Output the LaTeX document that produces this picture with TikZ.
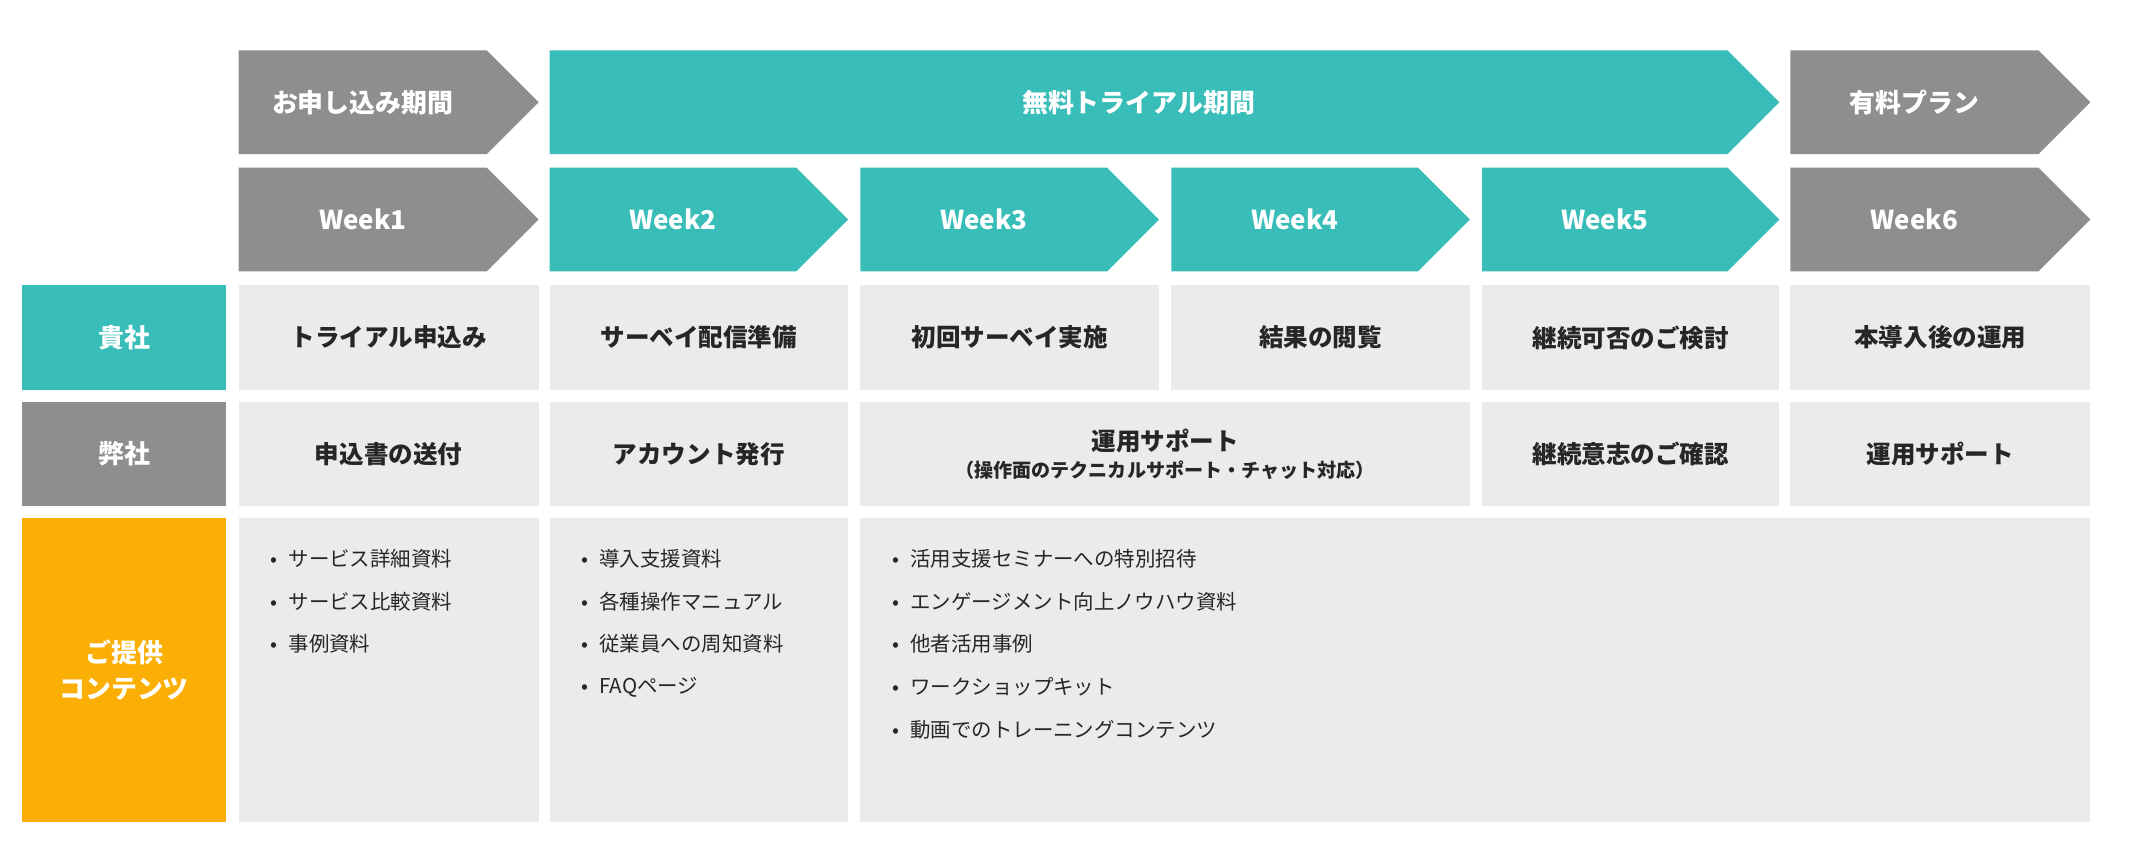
\documentclass[tikz,border=0pt]{standalone}
\usepackage{fontspec}
\setmainfont{Noto Sans CJK JP}
\begin{document}
\begin{tikzpicture}[x=1pt,y=-1pt,
  hdr/.style={font=\bfseries\fontsize{19}{22}\selectfont,text=white},
  cell/.style={font=\bfseries\fontsize{18}{22}\selectfont,text=black!85},
  bl/.style={anchor=west,font=\fontsize{15}{18}\selectfont,text=black!85}]
\definecolor{teal}{HTML}{38BDB8}
\definecolor{gr}{HTML}{8E8E8E}
\definecolor{lt}{HTML}{EBEBEB}
\definecolor{org}{HTML}{FBAE03}
\useasboundingbox (0,0) rectangle (1568,619);
\fill[white] (0,0) rectangle (1568,619);
% arrows
\newcommand{\arr}[5]{\fill[#3] (#1,#4) -- (#2-38,#4) -- (#2,#4+38) -- (#2-38,#4+76) -- (#1,#4+76) -- cycle;
  \node[hdr] at ({(#1+#2-38)/2},#4+38) {#5};}
\arr{175}{395}{gr}{37}{お申し込み期間}
\arr{403}{1305}{teal}{37}{無料トライアル期間}
\arr{1313}{1533}{gr}{37}{有料プラン}
\arr{175}{395}{gr}{123}{Week1}
\arr{403}{622}{teal}{123}{Week2}
\arr{631}{850}{teal}{123}{Week3}
\arr{859}{1078}{teal}{123}{Week4}
\arr{1087}{1305}{teal}{123}{Week5}
\arr{1313}{1533}{gr}{123}{Week6}
% left labels
\fill[teal] (16,209) rectangle (166,286); \node[hdr] (l1) at (91,247.5) {貴社};
\fill[gr] (16,295) rectangle (166,371); \node[hdr] (l2) at (91,333) {弊社};
\fill[org] (16,380) rectangle (166,603); \node[hdr,align=center] (l3) at (91,491.5) {ご提供\\[4pt]コンテンツ};
% row 3
\newcommand{\cellbox}[5]{\fill[lt] (#1,#3) rectangle (#2,#4); \node[cell,align=center] at ({(#1+#2)/2},{(#3+#4)/2}) {#5};}
\cellbox{175}{395}{209}{286}{トライアル申込み}
\cellbox{403}{622}{209}{286}{サーベイ配信準備}
\cellbox{631}{850}{209}{286}{初回サーベイ実施}
\cellbox{859}{1078}{209}{286}{結果の閲覧}
\cellbox{1087}{1305}{209}{286}{継続可否のご検討}
\cellbox{1313}{1533}{209}{286}{本導入後の運用}
\cellbox{175}{395}{295}{371}{申込書の送付}
\cellbox{403}{622}{295}{371}{アカウント発行}
\cellbox{631}{1078}{295}{371}{運用サポート\\[-2pt]{\fontsize{14}{17}\selectfont （操作面のテクニカルサポート・チャット対応）}}
\cellbox{1087}{1305}{295}{371}{継続意志のご確認}
\cellbox{1313}{1533}{295}{371}{運用サポート}
\fill[lt] (175,380) rectangle (395,603);
\fill[lt] (403,380) rectangle (622,603);
\fill[lt] (631,380) rectangle (1533,603);
\newcommand{\bli}[3]{\node[bl] at (#1,#2) {•\hspace{8pt}#3};}
\bli{195}{410}{サービス詳細資料}
\bli{195}{441}{サービス比較資料}
\bli{195}{472}{事例資料}
\bli{423}{410}{導入支援資料}
\bli{423}{441}{各種操作マニュアル}
\bli{423}{472}{従業員への周知資料}
\bli{423}{504}{FAQページ}
\bli{651}{410}{活用支援セミナーへの特別招待}
\bli{651}{441}{エンゲージメント向上ノウハウ資料}
\bli{651}{472}{他者活用事例}
\bli{651}{504}{ワークショップキット}
\bli{651}{535}{動画でのトレーニングコンテンツ}
\end{tikzpicture}
\end{document}
